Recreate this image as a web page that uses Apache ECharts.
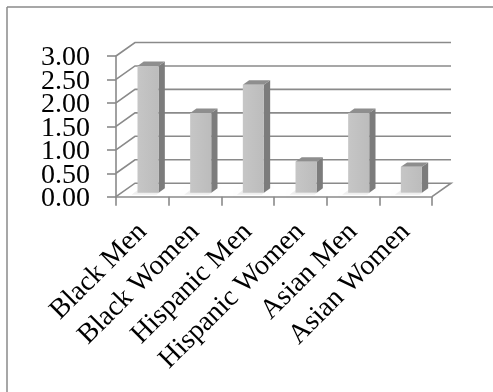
<!DOCTYPE html>
<html>
<head>
<meta charset="utf-8">
<script src="https://cdn.jsdelivr.net/npm/echarts@6/dist/echarts.min.js"></script>
<style>
  html, body { margin: 0; padding: 0; background: #fff; }
  #chart { width: 493px; height: 392px; }
</style>
</head>
<body>
<div id="chart"></div>
<script>
// Chart data
const categories = ['Black Men', 'Black Women', 'Hispanic Men', 'Hispanic Women', 'Asian Men', 'Asian Women'];
const values = [2.7, 1.7, 2.3, 0.66, 1.7, 0.55];
const yTicks = [0, 0.5, 1, 1.5, 2, 2.5, 3];
const yTickLabels = ['0.00', '0.50', '1.00', '1.50', '2.00', '2.50', '3.00'];

// Oblique depth offset of the 3D box (pixels from front plane to back wall)
const DX = 19, DY = -13.5;
// Bar depth span (fraction of full depth) and front-face width (fraction of band)
const D0 = 0.3, D1 = 0.63, BAR_W = 0.4;

const LINE = '#8a8a8a';
const FONT = 'Liberation Serif';

// Back wall / floor gridlines with their oblique connectors to the front axis
function renderWall(params, api) {
  const v = api.value(1);
  const bw = api.size([1, 0])[0];
  const first = api.coord([0, v]);
  const last = api.coord([categories.length - 1, v]);
  const xl = first[0] - bw / 2, xr = last[0] + bw / 2, y = first[1];
  const pts = [[xl, y], [xl + DX, y + DY], [xr + DX, y + DY]];
  if (v === 0) pts.push([xr, y]);
  return {
    type: 'polyline',
    shape: { points: pts },
    style: { stroke: LINE, lineWidth: 1.6, fill: null }
  };
}

// Value labels of the vertical axis, set left of the tick marks
function renderYLabel(params, api) {
  const v = api.value(1);
  const bw = api.size([1, 0])[0];
  const p = api.coord([0, v]);
  return {
    type: 'text',
    x: p[0] - bw / 2 - 26,
    y: p[1] + 2,
    style: {
      text: yTickLabels[params.dataIndex],
      fill: '#000',
      font: '28px "' + FONT + '"',
      align: 'right',
      verticalAlign: 'middle'
    }
  };
}

// 3D box bar: shadow, side face, top face, front face
function renderBar(params, api) {
  const i = api.value(0), v = api.value(1);
  const bw = api.size([1, 0])[0];
  const base = api.coord([i, 0]);
  const top = api.coord([i, v]);
  const xL = base[0] - bw * BAR_W / 2 + D0 * DX;
  const xR = xL + bw * BAR_W;
  const yB = base[1] + D0 * DY;
  const yT = top[1] + D0 * DY;
  const ddx = (D1 - D0) * DX, ddy = (D1 - D0) * DY;
  return {
    type: 'group',
    children: [
      {
        type: 'polygon',
        shape: { points: [[xL - 6, yB + 2], [xR - 2, yB + 2], [xR + ddx, yB + ddy], [xL + ddx - 4, yB + ddy]] },
        style: { fill: 'rgba(0,0,0,0.06)', shadowBlur: 4, shadowColor: 'rgba(0,0,0,0.15)' }
      },
      {
        type: 'polygon',
        shape: { points: [[xR, yT], [xR + ddx, yT + ddy], [xR + ddx, yB + ddy], [xR, yB]] },
        style: { fill: '#7c7c7c' }
      },
      {
        type: 'polygon',
        shape: { points: [[xL, yT], [xL + ddx, yT + ddy], [xR + ddx, yT + ddy], [xR, yT]] },
        style: { fill: '#8e8e8e' }
      },
      {
        type: 'rect',
        shape: { x: xL, y: yT, width: xR - xL, height: yB - yT },
        style: {
          fill: {
            type: 'linear', x: 0, y: 0, x2: 1, y2: 0,
            colorStops: [{ offset: 0, color: '#c6c6c6' }, { offset: 1, color: '#bcbcbc' }]
          }
        }
      }
    ]
  };
}

const chart = echarts.init(document.getElementById('chart'), null, { renderer: 'canvas' });
chart.setOption({
  animation: false,
  backgroundColor: '#fff',
  graphic: [
    { type: 'line', shape: { x1: 7, y1: 7, x2: 493, y2: 7 }, style: { stroke: LINE, lineWidth: 1.5 } },
    { type: 'line', shape: { x1: 7, y1: 7, x2: 7, y2: 392 }, style: { stroke: LINE, lineWidth: 1.5 } }
  ],
  grid: { left: 116, top: 56, right: 61, bottom: 195.3, containLabel: false },
  xAxis: {
    type: 'category',
    data: categories,
    boundaryGap: true,
    axisLine: { show: true, lineStyle: { color: LINE, width: 1.6 } },
    axisTick: { show: true, length: 9, lineStyle: { color: LINE, width: 1.6 } },
    axisLabel: {
      rotate: 45, margin: 31, interval: 0, hideOverlap: false,
      color: '#000', fontFamily: FONT, fontSize: 28, lineHeight: 22
    },
    splitLine: { show: false }
  },
  yAxis: {
    type: 'value',
    min: 0, max: 3, interval: 0.5,
    axisLine: { show: true, lineStyle: { color: LINE, width: 1.6 } },
    axisTick: { show: true, length: 9, lineStyle: { color: LINE, width: 1.6 } },
    axisLabel: { show: false },
    splitLine: { show: false }
  },
  series: [
    {
      type: 'custom',
      renderItem: renderWall,
      encode: { x: 0, y: 1 },
      data: yTicks.map(v => [0, v]),
      z: 1,
      silent: true
    },
    {
      type: 'custom',
      renderItem: renderYLabel,
      encode: { x: 0, y: 1 },
      data: yTicks.map(v => [0, v]),
      z: 2,
      silent: true
    },
    {
      type: 'custom',
      renderItem: renderBar,
      encode: { x: 0, y: 1 },
      data: values.map((v, i) => [i, v]),
      z: 3,
      silent: true
    }
  ]
});
</script>
</body>
</html>
